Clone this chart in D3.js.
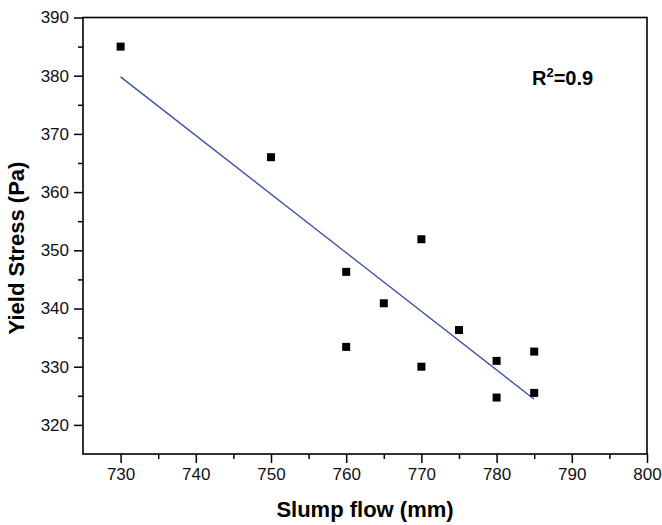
<!DOCTYPE html>
<html>
<head>
    <meta charset="utf-8" />
    <title>slump flow vs yield stress</title>
    <script src="https://d3js.org/d3.v7.min.js"></script>
    <style>
        body { margin: 0; background: #ffffff; }
        svg { display: block; font-family: "Liberation Sans", Arial, sans-serif; }
        .axis path { display: none; }
        .axis line { stroke: #000; stroke-width: 1.5px; }
        .axis text { font-size: 17px; fill: #111; }
    </style>
</head>
<body>
<svg width="662" height="525"></svg>
<script>
    // measured points (slump flow mm, yield stress Pa)
    var slumpFlow = [730, 750, 760, 760, 765, 770, 770, 775, 780, 780, 785, 785];
    var yieldStress = [385, 366, 346.3, 333.4, 340.9, 351.9, 330, 336.3, 331, 324.7, 332.6, 325.5];

    // fitted line ends
    var fitX = [730, 785];
    var fitY = [379.8, 324.4];

    var xMajor = [730, 740, 750, 760, 770, 780, 790, 800];
    var xMinor = [735, 745, 755, 765, 775, 785, 795];
    var yMajor = [320, 330, 340, 350, 360, 370, 380, 390];
    var yMinor = [325, 335, 345, 355, 365, 375, 385];

    var svg = d3.select('svg');
    var plotL = 83, plotR = 647, plotT = 17.5, plotB = 454;

    var x = d3.scaleLinear().domain([725, 800]).range([plotL, plotR]);
    var y = d3.scaleLinear().domain([315, 390]).range([plotB, plotT]);

    // minor ticks
    svg.append('g').attr('class', 'axis')
        .attr('transform', 'translate(0,' + plotB + ')')
        .call(d3.axisBottom(x).tickValues(xMinor).tickSize(5).tickFormat(''));
    svg.append('g').attr('class', 'axis')
        .attr('transform', 'translate(' + plotL + ',0)')
        .call(d3.axisLeft(y).tickValues(yMinor).tickSize(5).tickFormat(''));

    // major ticks
    svg.append('g').attr('class', 'axis')
        .attr('transform', 'translate(0,' + plotB + ')')
        .call(d3.axisBottom(x).tickValues(xMajor).tickSize(9).tickPadding(5).tickFormat(d3.format('d')));
    svg.append('g').attr('class', 'axis')
        .attr('transform', 'translate(' + plotL + ',0)')
        .call(d3.axisLeft(y).tickValues(yMajor).tickSize(9).tickPadding(5).tickFormat(d3.format('d')));

    // frame
    svg.append('rect')
        .attr('x', plotL).attr('y', plotT)
        .attr('width', plotR - plotL).attr('height', plotB - plotT)
        .attr('fill', 'none').attr('stroke', '#000').attr('stroke-width', 1.6);

    // fit line
    var fit = fitX.map(function(d, i) { return [d, fitY[i]]; });
    svg.append('path')
        .datum(fit)
        .attr('d', d3.line().x(function(d) { return x(d[0]); }).y(function(d) { return y(d[1]); }))
        .attr('fill', 'none')
        .attr('stroke', '#3a4ea8')
        .attr('stroke-width', 1.3);

    // points
    var s = 8;
    svg.append('g').selectAll('rect')
        .data(slumpFlow)
        .enter()
        .append('rect')
        .attr('x', function(d) { return x(d) - s / 2; })
        .attr('y', function(d, i) { return y(yieldStress[i]) - s / 2; })
        .attr('width', s).attr('height', s)
        .attr('fill', '#000');

    // axis titles
    svg.append('text')
        .attr('x', (plotL + plotR) / 2)
        .attr('y', 517)
        .attr('text-anchor', 'middle')
        .style('font-size', '22px')
        .style('font-weight', 'bold')
        .text('Slump flow (mm)');

    svg.append('text')
        .attr('transform', 'translate(24,248) rotate(-90)')
        .attr('text-anchor', 'middle')
        .style('font-size', '22px')
        .style('font-weight', 'bold')
        .text('Yield Stress (Pa)');

    // R squared
    var r2 = svg.append('text')
        .attr('x', 532)
        .attr('y', 85)
        .style('font-size', '20px')
        .style('font-weight', 'bold');
    r2.append('tspan').text('R');
    r2.append('tspan').attr('dy', -8).style('font-size', '13px').text('2');
    r2.append('tspan').attr('dy', 8).text('=0.9');
</script>
</body>
</html>
